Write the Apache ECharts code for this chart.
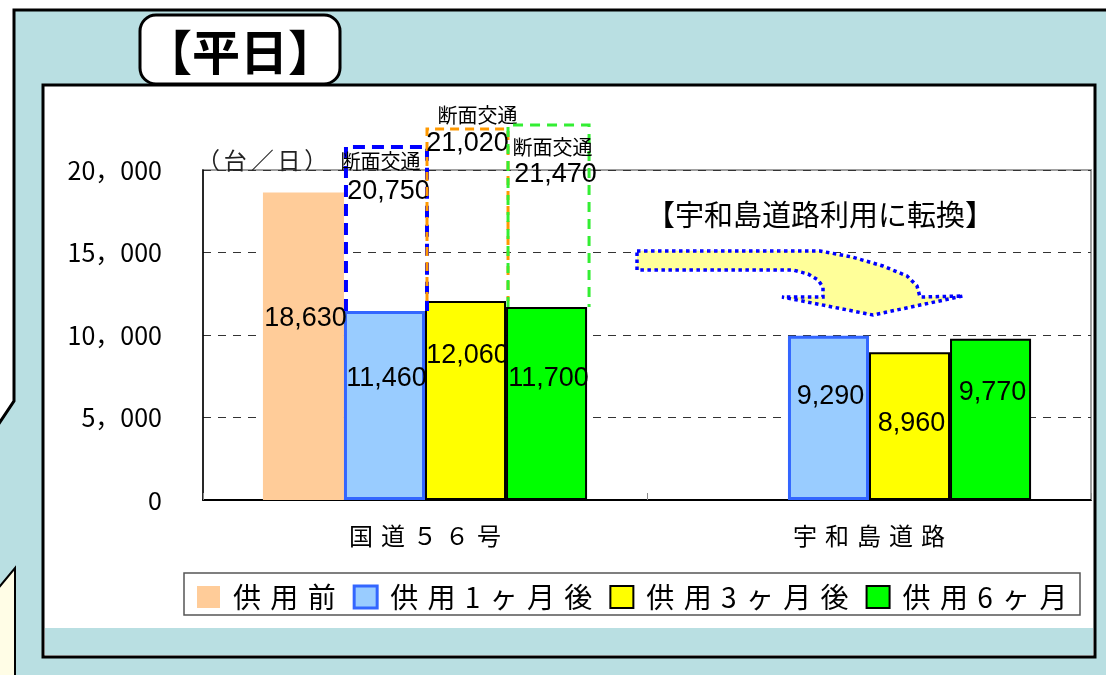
<!DOCTYPE html>
<html><head><meta charset="utf-8">
<script src="https://cdn.jsdelivr.net/npm/echarts@6/dist/echarts.min.js"></script>
<style>html,body{margin:0;padding:0;background:#fff}#c{width:1106px;height:675px}</style>
</head><body><div id="c"></div>
<script>
// ---------------- data ----------------
const categories = ['国道５６号', '宇和島道路'];
const seriesNames = ['供用前', '供用1ヶ月後', '供用3ヶ月後', '供用6ヶ月'];
// bar heights as drawn in the picture
const before  = [18630, null];
const after1m = [11460, 9950];
const after3m = [12060, 8960];
const after6m = [11700, 9770];
// value labels as printed on the bars
const beforeLabels  = ['18,630', ''];
const after1mLabels = ['11,460', '9,290'];
const after3mLabels = ['12,060', '8,960'];
const after6mLabels = ['11,700', '9,770'];
// "断面交通" (cross-section traffic) annotation boxes on 国道５６号
const sectionTotalLabels = ['20,750', '21,020', '21,470'];
const sectionBoxTops = [21400, 22480, 22730];   // drawn top of each dashed box
const yTickLabels = ['0', '5，000', '10，000', '15，000', '20，000'];
const unitLabel = '（台／日）';
const titleText = '【平日】';
const noteText = '【宇和島道路利用に転換】';

// ---------------- layout / style ----------------
const JP = '"Noto Sans CJK JP"';
const LAT = '"Liberation Sans", Arial';
const BLUEPANEL = '#b9dfe2';
const barStyles = [
  {color: '#ffcc99', borderColor: '#ffcc99', borderWidth: 0},
  {color: '#99ccff', borderColor: '#3366ff', borderWidth: 3},
  {color: '#ffff00', borderColor: '#000000', borderWidth: 2},
  {color: '#00ff00', borderColor: '#000000', borderWidth: 2}
];
const labelDy = [[-28, 0], [-27, -21], [-45, -3], [-25, -27]];
const boxStyles = [
  {stroke: '#0000ff', lineWidth: 4, lineDash: [12, 7]},
  {stroke: '#ff9900', lineWidth: 3, lineDash: [9, 6]},
  {stroke: '#33ee33', lineWidth: 3, lineDash: [10, 7]}
];
const boxLabelPos = [ // [dx line1, dy line1, dx line2, dy line2] relative to box top center
  [-6, 15, 2, 45], [10, -14, 0, 14], [4, 22, 7, 50]
];
const GAP = 0.27;

const values = [before, after1m, after3m, after6m];
const printed = [beforeLabels, after1mLabels, after3mLabels, after6mLabels];
const spaced = (s, sp) => s.split('').join(sp);

const barSeries = values.map((arr, si) => ({
  name: seriesNames[si],
  type: 'bar',
  stack: 's' + si,
  barGap: '0%',
  barCategoryGap: (GAP * 100) + '%',
  data: arr.map((v, i) => v == null ? '-' : {
    value: v,
    label: {offset: [2, labelDy[si][i]]}
  }),
  itemStyle: barStyles[si],
  emphasis: {disabled: true},
  z: 3,
  label: {
    show: true,
    position: 'inside',
    color: '#000',
    fontFamily: LAT,
    fontSize: 27,
    formatter: p => printed[si][p.dataIndex]
  }
}));

// dashed annotation boxes: [categoryIndex, slotIndex, base, top]
const boxData = sectionBoxTops.map((t, k) => [0, k + 1, values[k + 1][0], t]);

const boxSeries = {
  type: 'custom',
  name: 'box',
  data: boxData,
  encode: {x: 0, y: 3},
  z: 5,
  clip: false,
  silent: true,
  renderItem: (params, api) => {
    const k = params.dataIndex;
    const cat = api.value(0), slot = api.value(1), base = api.value(2), top = api.value(3);
    const pt = api.coord([cat, top]);
    const pb = api.coord([cat, base]);
    const band = api.size([1, 0])[0];
    const bw = band * (1 - GAP) / 4;
    const x0 = pt[0] - 2 * bw + slot * bw + 2;
    const x1 = x0 + bw;
    const cx = (x0 + x1) / 2;
    const lp = boxLabelPos[k];
    return {
      type: 'group',
      children: [
        {type: 'polyline', shape: {points: [[x0, pb[1]], [x0, pt[1]], [x1, pt[1]], [x1, pb[1]]]},
         style: Object.assign({fill: null}, boxStyles[k])},
        {type: 'text', x: cx + lp[0], y: pt[1] + lp[1],
         style: {text: '断面交通', fill: '#000', font: '20px ' + JP, align: 'center', verticalAlign: 'middle'}},
        {type: 'text', x: cx + lp[2], y: pt[1] + lp[3],
         style: {text: sectionTotalLabels[k], fill: '#000', font: '27px ' + LAT, align: 'center', verticalAlign: 'middle'}}
      ]
    };
  }
};

// arrow outline (decorative shape)
const arrowPts = [[637,251],[820,251],[852,257],[883,266],[907,276],[917,286],[920,297],[963,296],
  [873,315],[782,297],[823,297],[823,287],[818,280],[808,274],[793,270],[637,270]];

const option = {
  backgroundColor: '#ffffff',
  animation: false,
  grid: {left: 203, top: 170, right: 15, bottom: 175, show: true,
         borderColor: '#a0a0a0', borderWidth: 2, backgroundColor: 'transparent',
         outerBoundsMode: 'none'},
  legend: {
    left: 197, top: 583, padding: 0, itemGap: 17, itemWidth: 23, itemHeight: 22, icon: 'rect',
    selectedMode: false,
    data: seriesNames.map((n, i) => ({name: n, itemStyle: Object.assign({}, barStyles[i], {borderWidth: i === 1 ? 3 : (i === 0 ? 0 : 2)})})),
    formatter: n => spaced(n, '\u2004'),
    textStyle: {fontFamily: JP, fontSize: 28, color: '#000', padding: [0, 0, 0, 8]}
  },
  xAxis: {
    type: 'category',
    data: categories,
    axisLine: {show: true, lineStyle: {color: '#000', width: 2}},
    axisTick: {show: true, inside: true, length: 7, lineStyle: {color: '#888', width: 1}},
    axisLabel: {margin: 24, color: '#000', fontFamily: JP, fontSize: 24, formatter: v => spaced(v, '\u2004')},
    splitLine: {show: false}
  },
  yAxis: {
    type: 'value', min: 0, max: 20000, interval: 5000,
    name: spaced(unitLabel, '\u2006'), nameLocation: 'end', nameGap: 0,
    nameTextStyle: {align: 'left', verticalAlign: 'bottom', fontFamily: JP, fontSize: 23, color: '#222', padding: [0, 0, -2, -6], lineHeight: 24},
    axisLine: {show: true, lineStyle: {color: '#000', width: 1.5}},
    axisTick: {show: false},
    axisLabel: {margin: 41, color: '#000', fontFamily: JP, fontSize: 25,
                formatter: v => yTickLabels[Math.round(v / 5000)]},
    splitLine: {show: true, lineStyle: {color: '#333', width: 1, type: [8, 7]}}
  },
  graphic: [
    // blue outer panel
    {type: 'polygon', z: -20, shape: {points: [[14,10],[1112,10],[1112,682],[-4,682],[-4,428],[14,401]]},
     style: {fill: BLUEPANEL, stroke: '#000', lineWidth: 3}},
    // light-yellow callout at bottom left
    {type: 'polygon', z: -19, shape: {points: [[15,568],[15,682],[-4,682],[-4,591]]},
     style: {fill: '#fffde6', stroke: '#000', lineWidth: 2}},
    // white chart panel
    {type: 'rect', z: -18, shape: {x: 43, y: 85, width: 1052, height: 572},
     style: {fill: '#fff', stroke: '#000', lineWidth: 3}},
    {type: 'rect', z: -17, shape: {x: 45, y: 628, width: 1048, height: 27},
     style: {fill: BLUEPANEL}},
    // legend frame
    {type: 'rect', z: -16, shape: {x: 184, y: 573, width: 896, height: 42},
     style: {fill: '#fff', stroke: '#555', lineWidth: 1.5}},
    // title box
    {type: 'rect', z: 20, shape: {x: 140, y: 15, width: 200, height: 69, r: 16},
     style: {fill: '#fff', stroke: '#000', lineWidth: 3}},
    {type: 'text', z: 21, x: 240, y: 52,
     style: {text: titleText, font: 'bold 48px ' + JP, fill: '#000', align: 'center', verticalAlign: 'middle'}},
    // arrow + note
    {type: 'polygon', z: 20, shape: {points: arrowPts},
     style: {fill: '#ffff99', stroke: '#0000ff', lineWidth: 3.5, lineDash: [3.5, 3.5]}},
    {type: 'text', z: 21, x: 820, y: 215,
     style: {text: noteText, font: '29px ' + JP, fill: '#000', align: 'center', verticalAlign: 'middle'}}
  ],
  series: barSeries.concat([boxSeries])
};

const chart = echarts.init(document.getElementById('c'), null, {renderer: 'canvas'});
chart.setOption(option);
</script>
</body></html>
